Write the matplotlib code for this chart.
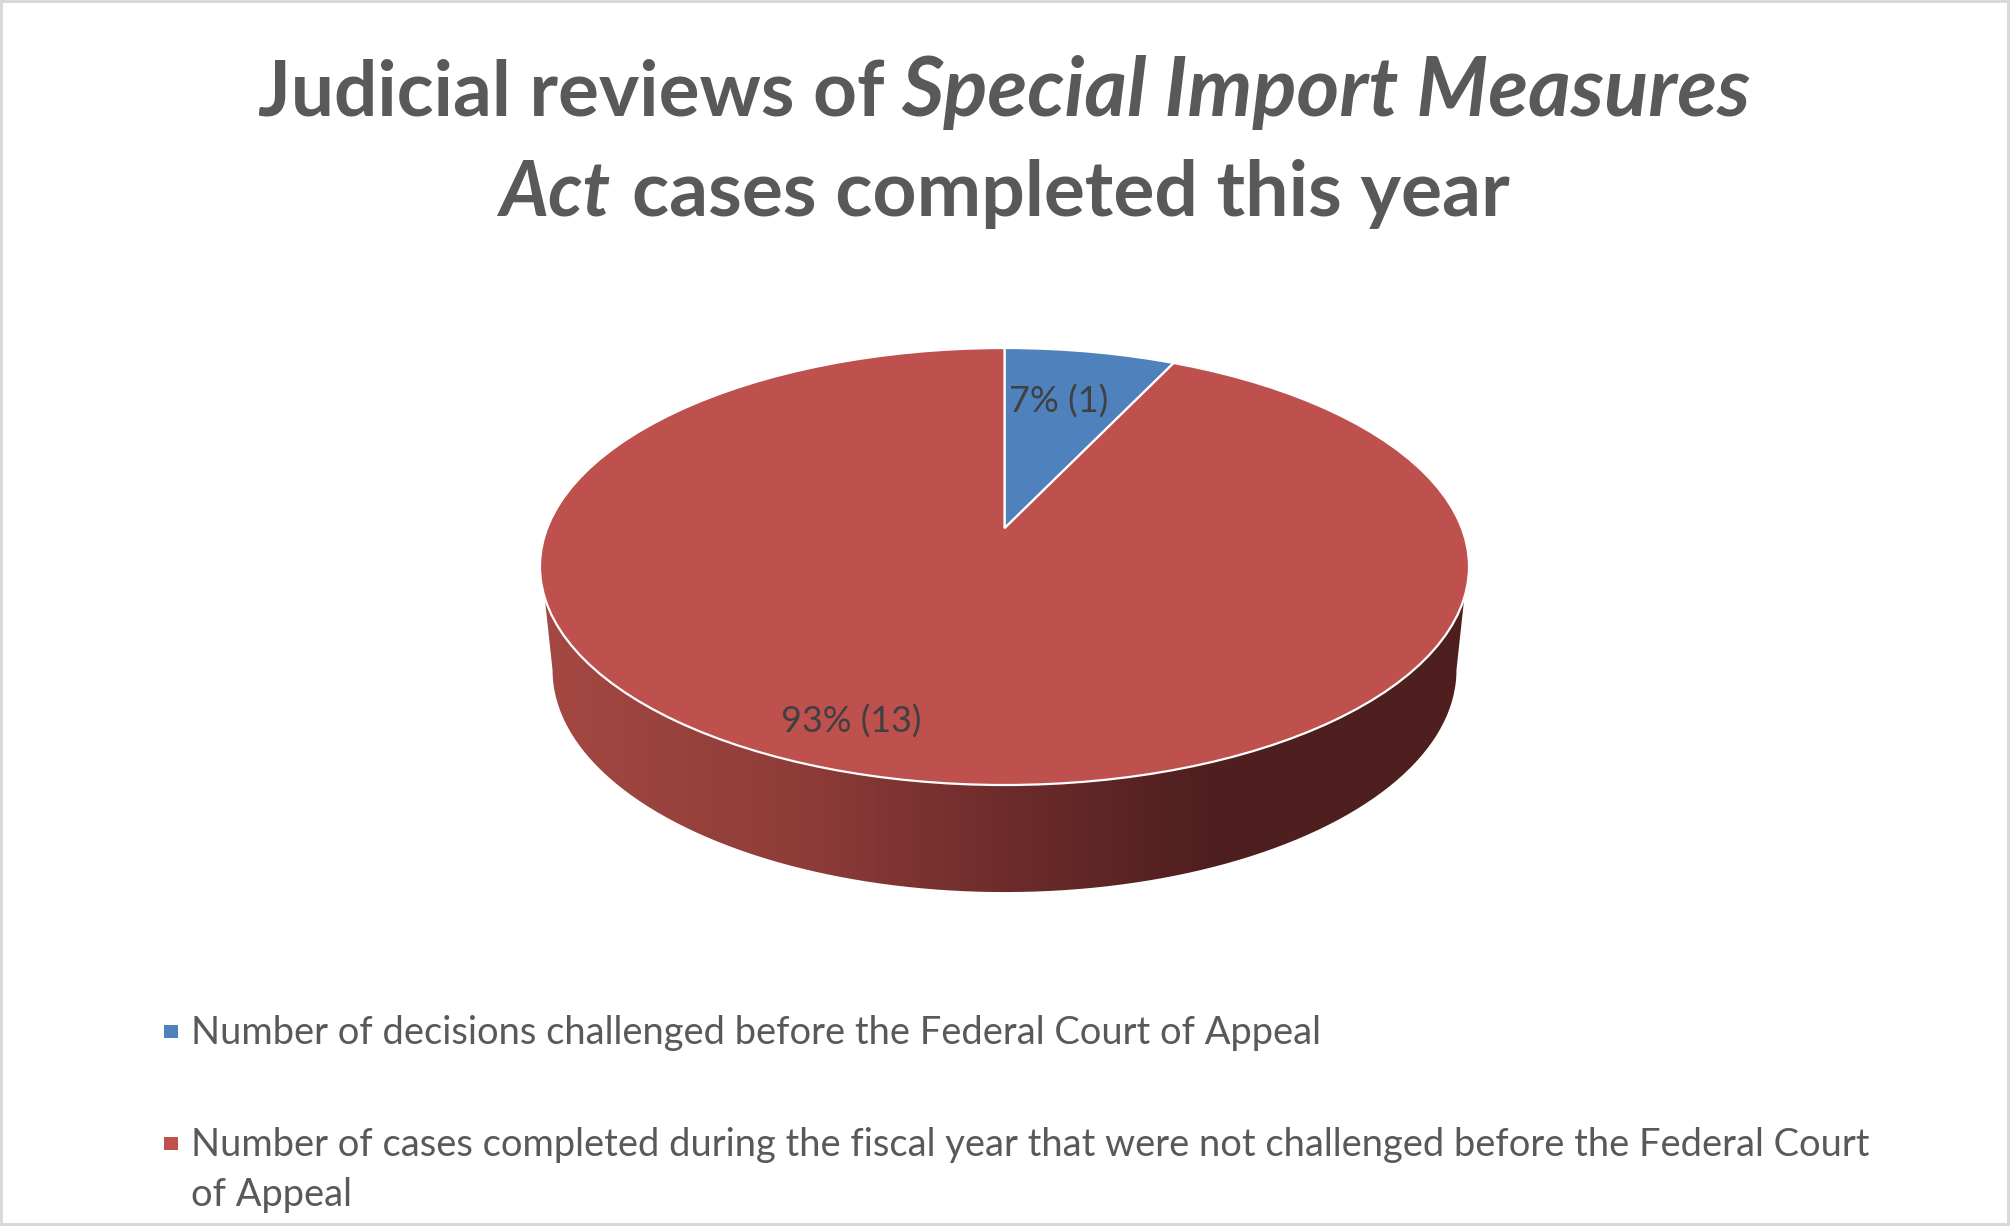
import numpy as np
import matplotlib
matplotlib.use("Agg")
import matplotlib.pyplot as plt
from matplotlib.colors import LinearSegmentedColormap
from matplotlib.patches import Ellipse, Rectangle
from matplotlib.path import Path

# ---- data ----
VALUES = [1, 13]
SERIES = ["Number of decisions challenged before the Federal Court of Appeal",
          "Number of cases completed during the fiscal year that were not challenged before the Federal Court\nof Appeal"]
COLORS = ["#4F81BD", "#BE504D"]
TITLE_RUNS = ["Judicial reviews of", "Special Import Measures", "Act", "cases completed this year"]
TITLE_STYLES = ["normal", "italic", "italic", "normal"]

W, H = 2010, 1226
FONT = "Lato"
fig = plt.figure(figsize=(W / 100, H / 100), dpi=100, facecolor="white")
def fx(px): return px / W
def fy(py): return 1 - py / H

# disc geometry in pixels: centre, radii
CX, CY, RX, RY = 1004.5, 566.5, 464.5, 218.5
XL, YT, YB = (-1.1, 1.1), 1.1, -1.6
ax = fig.add_axes([fx(CX + XL[0] * RX), fy(CY - YB * RY),
                   (XL[1] - XL[0]) * RX / W, (YT - YB) * RY / H])
APEX_Y = 0.175
wedges, _ = ax.pie(VALUES, colors=COLORS, startangle=90, counterclock=False,
                   center=(0, APEX_Y), radius=3,
                   wedgeprops=dict(edgecolor="white", linewidth=1.6))
ax.set_aspect("auto")
ax.set_xlim(*XL)
ax.set_ylim(YB, YT)
ax.axis("off")

for w in wedges:
    w.set_zorder(3)
    w.set_clip_on(True)
    w.set_clip_path(Path.unit_circle(), ax.transData)
ax.add_patch(Ellipse((0, 0), 2, 2, fill=False, edgecolor="white", linewidth=1.6, zorder=4))

# side wall with its gradient
t = np.linspace(np.pi, 2 * np.pi, 200)
wall_xy = np.vstack([[-0.99, -0.14],
                     np.c_[0.973 * np.cos(t), -0.474 + 1.016 * np.sin(t)],
                     [0.99, -0.14], [-0.99, -0.14]])
cmap = LinearSegmentedColormap.from_list(
    "wall", [(0.0, "#A44843"), (0.28, "#8F3C39"), (0.5, "#6D2C2B"), (0.72, "#4E1F1E"), (1.0, "#4E1F1E")])
im = ax.imshow(np.linspace(0, 1, 512)[None, :], cmap=cmap, aspect="auto",
               extent=(-1, 1, -1.6, 0), zorder=2, interpolation="bilinear")
im.set_clip_path(Path(wall_xy), ax.transData)
ax.set_xlim(*XL)
ax.set_ylim(YB, YT)
ax.set_aspect("auto")

renderer = fig.canvas.get_renderer()
def width(t):
    return t.get_window_extent(renderer).width

def fitted_text(s, x, y, target, color, **kw):
    t = fig.text(fx(x), fy(y), s, color=color, family=FONT, va="baseline", ha="left", fontsize=20, **kw)
    t.set_fontsize(20 * target / width(t))
    return t

# data labels
total = sum(VALUES)
LABEL_POS = [(1009, 413, 99), (781, 733, 140)]
for v, (x, y, tw) in zip(VALUES, LABEL_POS):
    fitted_text(f"{round(100 * v / total)}% ({v})", x, y, tw, "#404040")

# title: bold with italic runs, each fitted to its span
TITLE_SPANS = [(258, 885, 116), (901, 1750, 116), (499, 610, 216), (632, 1510, 216)]
for s, st, (x0, x1, b) in zip(TITLE_RUNS, TITLE_STYLES, TITLE_SPANS):
    fitted_text(s, x0, b, x1 - x0, "#595959", weight="bold", style=st)

# legend
sizer = fig.text(0, 0, SERIES[0], family=FONT, fontsize=20)
LEG_SIZE = 20 * 1135 / width(sizer)
sizer.remove()
LEG_BASE = [1044, 1156]
for s, c, b in zip(SERIES, COLORS, LEG_BASE):
    fig.add_artist(Rectangle((fx(164), fy(b - 6)), 13.5 / W, 13.5 / H, transform=fig.transFigure,
                             facecolor=c, edgecolor="none"))
    for i, ln in enumerate(s.split("\n")):
        fig.text(fx(191), fy(b + 50 * i), ln, family=FONT, fontsize=LEG_SIZE, color="#595959",
                 va="baseline", ha="left")

# chart frame
fig.add_artist(Rectangle((0, 0), 1, 1, transform=fig.transFigure, fill=False,
                         edgecolor="#D9D9D9", linewidth=4.3))

fig.savefig("out.png", dpi=100, facecolor="white")
